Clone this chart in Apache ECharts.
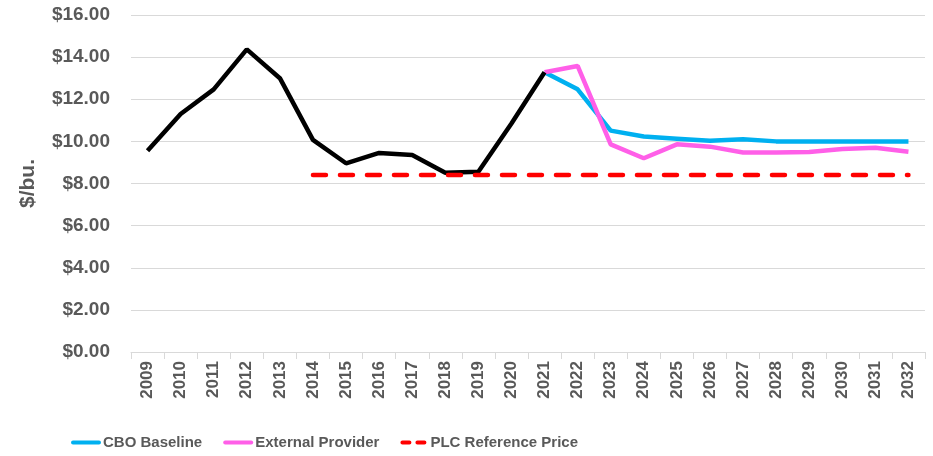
<!DOCTYPE html>
<html>
<head>
<meta charset="utf-8">
<script src="https://cdn.jsdelivr.net/npm/echarts@6/dist/echarts.min.js"></script>
<style>html,body{margin:0;padding:0;background:#fff;}#c{width:933px;height:456px;}</style>
</head>
<body>
<div id="c"></div>
<script>
var years = ['2009','2010','2011','2012','2013','2014','2015','2016','2017','2018','2019','2020','2021','2022','2023','2024','2025','2026','2027','2028','2029','2030','2031','2032'];
var historical = [9.55,11.3,12.47,14.37,13.0,10.07,8.96,9.45,9.35,8.51,8.56,10.85,13.28,null,null,null,null,null,null,null,null,null,null,null];
var cboBaseline = [null,null,null,null,null,null,null,null,null,null,null,null,13.28,12.47,10.51,10.23,10.13,10.03,10.1,10.0,10.0,10.0,10.0,10.0];
var externalProvider = [null,null,null,null,null,null,null,null,null,null,null,null,13.28,13.58,9.86,9.2,9.86,9.75,9.47,9.47,9.5,9.64,9.7,9.51];
var plcReference = [null,null,null,null,null,8.4,8.4,8.4,8.4,8.4,8.4,8.4,8.4,8.4,8.4,8.4,8.4,8.4,8.4,8.4,8.4,8.4,8.4,8.4];
var yTicks = [0,2,4,6,8,10,12,14,16];

var chart = echarts.init(document.getElementById('c'));
var txt = '#595959';
var ff = 'Liberation Sans, Arial, sans-serif';
var dashIcon = 'path://M2,0H9A2,2 0 0 1 9,4H2A2,2 0 0 1 2,0Z M17,0H24A2,2 0 0 1 24,4H17A2,2 0 0 1 17,0Z';
var lineIcon = 'path://M2,0H28A2,2 0 0 1 28,4H2A2,2 0 0 1 2,0Z';
chart.setOption({
  animation: false,
  grid: {left: 131, right: 8, top: 15, bottom: 104},
  legend: {
    data: [
      {name: 'CBO Baseline', icon: lineIcon},
      {name: 'External Provider', icon: lineIcon},
      {name: 'PLC Reference Price', icon: dashIcon}
    ],
    left: 66, bottom: 1,
    itemWidth: 30, itemHeight: 4, itemGap: 21,
    textStyle: {color: txt, fontWeight: 'bold', fontSize: 15, fontFamily: ff, padding: [0,0,0,-3]}
  },
  xAxis: {
    type: 'category', data: years, boundaryGap: true,
    axisLine: {lineStyle: {color: '#d9d9d9', width: 1}},
    axisTick: {show: true, length: 7, lineStyle: {color: '#d9d9d9'}},
    axisLabel: {rotate: 90, color: txt, fontWeight: 'bold', fontSize: 17, fontFamily: ff, margin: 9, interval: 0}
  },
  yAxis: {
    type: 'value', min: yTicks[0], max: yTicks[yTicks.length-1], interval: 2,
    name: '$/bu.', nameLocation: 'middle', nameGap: 92, nameRotate: 90,
    nameTextStyle: {color: txt, fontWeight: 'bold', fontSize: 21, fontFamily: ff},
    axisLine: {show: false}, axisTick: {show: false},
    splitLine: {lineStyle: {color: '#d9d9d9', width: 1}},
    axisLabel: {color: txt, fontWeight: 'bold', fontSize: 19, fontFamily: ff, margin: 21,
      formatter: function(v){ return '$' + v.toFixed(2); }}
  },
  series: [
    {name: 'CBO Baseline', type: 'line', data: cboBaseline, symbol: 'none', z: 2,
      lineStyle: {color: '#00b0f0', width: 4.5}, itemStyle: {color: '#00b0f0'}},
    {name: 'External Provider', type: 'line', data: externalProvider, symbol: 'none', z: 3,
      lineStyle: {color: '#ff5fe8', width: 4.5}, itemStyle: {color: '#ff5fe8'}},
    {name: 'Historical', type: 'line', data: historical, symbol: 'none', z: 4,
      lineStyle: {color: '#000000', width: 4.5}, itemStyle: {color: '#000000'}},
    {name: 'PLC Reference Price', type: 'line', data: plcReference, symbol: 'none', z: 5,
      lineStyle: {color: '#ff0000', width: 4.5, type: [13, 14], cap: 'round'}, itemStyle: {color: '#ff0000'}}
  ]
});
</script>
</body>
</html>
